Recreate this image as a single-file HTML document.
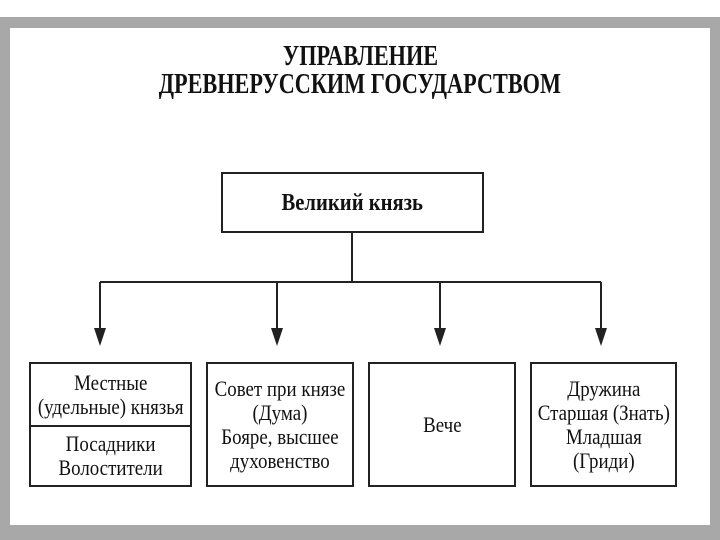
<!DOCTYPE html>
<html><head><meta charset="utf-8"><style>
body{margin:0;width:720px;height:540px;background:#fff;position:relative;overflow:hidden;font-family:"Liberation Serif",serif;}
.g{position:absolute;background:#a8a8a8}
.t{position:absolute;left:0;width:720px;text-align:center;font-weight:bold;font-size:28.5px;color:#111;line-height:30px}
.t span{display:inline-block;transform:scaleX(0.78);}
.b{position:absolute;border:2px solid #222;box-sizing:border-box;display:flex;align-items:center;justify-content:center;text-align:center;font-size:22px;line-height:24px;color:#111}
.b span{display:inline-block;transform:scaleX(0.86);white-space:nowrap}
</style></head><body>
<div class="g" style="left:0;top:17px;width:720px;height:11px"></div>
<div class="g" style="left:0;top:17px;width:10px;height:523px"></div>
<div class="g" style="left:710px;top:17px;width:10px;height:523px"></div>
<div class="g" style="left:0;top:525px;width:720px;height:15px"></div>
<div class="t" style="top:42px"><span>УПРАВЛЕНИЕ</span></div>
<div class="t" style="top:70px"><span>ДРЕВНЕРУССКИМ ГОСУДАРСТВОМ</span></div>
<div class="b" style="left:221px;top:172px;width:263px;height:61px;font-weight:bold;font-size:24px"><span>Великий князь</span></div>
<svg style="position:absolute;left:0;top:0" width="720" height="540">
<g stroke="#222" stroke-width="2" fill="none">
<line x1="352" y1="233" x2="352" y2="282"/>
<line x1="100" y1="282" x2="601" y2="282"/>
<line x1="100" y1="282" x2="100" y2="335"/>
<line x1="277" y1="282" x2="277" y2="335"/>
<line x1="440" y1="282" x2="440" y2="335"/>
<line x1="601" y1="282" x2="601" y2="335"/>
</g>
<g fill="#222">
<polygon points="94,328 106,328 100,346"/>
<polygon points="271,328 283,328 277,346"/>
<polygon points="434,328 446,328 440,346"/>
<polygon points="595,328 607,328 601,346"/>
</g></svg>
<div class="b" style="left:29px;top:362px;width:163px;height:65px"><span>Местные<br>(удельные) князья</span></div>
<div class="b" style="left:29px;top:425px;width:163px;height:62px"><span>Посадники<br>Волостители</span></div>
<div class="b" style="left:206px;top:362px;width:148px;height:125px"><span>Совет при князе<br>(Дума)<br>Бояре, высшее<br>духовенство</span></div>
<div class="b" style="left:368px;top:362px;width:148px;height:125px"><span>Вече</span></div>
<div class="b" style="left:530px;top:362px;width:147px;height:125px"><span>Дружина<br>Старшая (Знать)<br>Младшая<br>(Гриди)</span></div>
</body></html>
